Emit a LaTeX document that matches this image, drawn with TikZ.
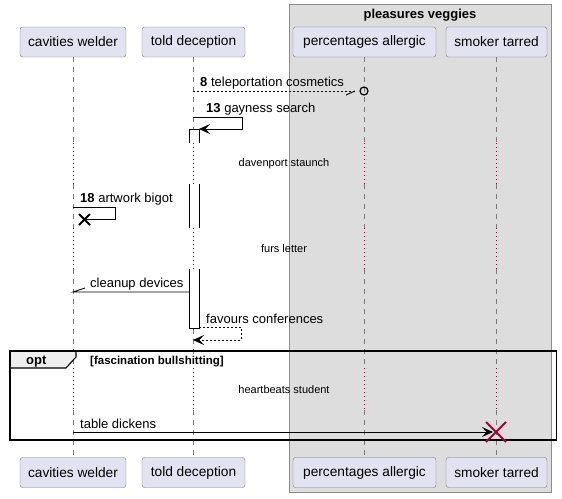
\documentclass[tikz,border=0pt]{standalone}
\usepackage{fontspec}
\setmainfont{Liberation Sans}
\usetikzlibrary{arrows.meta,positioning}
\definecolor{partfill}{HTML}{E2E2F0}
\definecolor{partline}{HTML}{7A7A7A}
\definecolor{boxfill}{HTML}{DDDDDD}
\definecolor{boxline}{HTML}{8C8C8C}
\definecolor{lifegray}{HTML}{7A7A7A}
\definecolor{delayred}{HTML}{A80036}
\definecolor{tabfill}{HTML}{EEEEEE}
\newcommand\partfont{\fontsize{13.7}{16}\selectfont}
\newcommand\msgfont{\fontsize{13}{15}\selectfont}
\newcommand\smallfont{\fontsize{11}{13}\selectfont}
\tikzset{
  part/.style={draw=partline, fill=partfill, rounded corners=2.5pt, minimum height=30pt, inner sep=0pt, font=\partfont},
  lifeline/.style={draw=lifegray, line width=0.8pt, dash pattern=on 5pt off 5pt},
  delayline/.style={draw=delayred, line width=0.8pt, dash pattern=on 1pt off 3pt},
  msg/.style={anchor=base west, inner sep=0pt, font=\msgfont},
  delaytext/.style={inner sep=0pt, font=\smallfont},
  arr/.style={line width=0.9pt, -{Stealth[length=11pt,width=10pt,inset=4.5pt]}},
  killmark/.style={line width=1.8pt},
}
\begin{document}
\begin{tikzpicture}[x=1pt,y=-1pt]
\useasboundingbox (0,0) rectangle (562,498);
% group box
\draw[boxline, fill=boxfill] (289.5,4.5) rectangle (551.5,492.5);
\node[font=\fontsize{13}{15}\selectfont\bfseries] (grp) at (420,15) {pleasures veggies};

% delay levels
\coordinate (dA) at (0,143);
\coordinate (dB) at (0,184);
\coordinate (fA) at (0,228);
\coordinate (fB) at (0,269);
\coordinate (hA) at (0,368);
\coordinate (hB) at (0,410);

% participants
\node[part, minimum width=106pt] (cw) at (73,42) {cavities welder};
\node[part, minimum width=103pt] (td) at (193.5,42) {told deception};
\node[part, minimum width=143pt] (pa) at (364.5,42) {percentages allergic};
\node[part, minimum width=101pt] (st) at (496.5,42) {smoker tarred};
\node[part, minimum width=106pt] (cw-b) at (73,472.5) {cavities welder};
\node[part, minimum width=103pt] (td-b) at (193.5,472.5) {told deception};
\node[part, minimum width=143pt] (pa-b) at (364.5,472.5) {percentages allergic};
\node[part, minimum width=101pt] (st-b) at (496.5,472.5) {smoker tarred};

\foreach \p in {cw,td,pa,st}{
  \draw[lifeline] (\p.south) -- (\p |- dA);
  \draw[delayline] (\p |- dA) -- (\p |- dB);
  \draw[lifeline] (\p |- dB) -- (\p |- fA);
  \draw[delayline] (\p |- fA) -- (\p |- fB);
  \draw[lifeline] (\p |- fB) -- (\p |- hA);
  \draw[delayline] (\p |- hA) -- (\p |- hB);
  \draw[lifeline] (\p |- hB) -- (\p-b.north);
}

% activation
\fill[white] (189,129) rectangle (199,143);
\draw (189,143) -- (189,129) -- (199,129) -- (199,143);
\fill[white] (189,184) rectangle (199,228);
\draw (189,184) -- (189,228) (199,184) -- (199,228);
\fill[white] (189,269) rectangle (199,328);
\draw (189,269) -- (189,328) -- (199,328) -- (199,269);

% messages
\coordinate (m8a) at (193,91);
\coordinate (m8b) at (355,91);
\coordinate (m8c) at (364,91);
\draw[line width=0.8pt, dash pattern=on 2pt off 2pt] (m8a) -- (m8b);
\draw[line width=0.9pt] (m8b) -- ++(-9,4);
\draw[line width=1.2pt] (m8c) circle (4pt);
\node[msg] (l8) at (200,86) {\textbf{8} teleportation cosmetics};

\coordinate (m13a) at (193,117);
\coordinate (m13b) at (199,129);
\draw[arr] (m13a) -- ++(49,0) |- (m13b);
\node[msg] (l13) at (206,112) {\textbf{13} gayness search};

\node[delaytext] (dl1) at (284,164) {davenport staunch};

\coordinate (m18a) at (73,207);
\coordinate (k18) at (84.5,219.5);
\draw[line width=0.9pt] (m18a) -- ++(42,0) |- (k18);
\draw[killmark] (k18) +(-5.5,-5.5) -- +(5.5,5.5) +(-5.5,5.5) -- +(5.5,-5.5);
\node[msg] (l18) at (80,202) {\textbf{18} artwork bigot};

\node[delaytext] (dl2) at (284,249) {furs letter};

\coordinate (m21a) at (189,292);
\coordinate (m21b) at (73,292);
\draw[line width=0.9pt] (m21a) -- (m21b) -- ++(12,-4);
\node[msg] (l21) at (90,287) {cleanup devices};

\coordinate (m22a) at (199,327);
\coordinate (m22b) at (193,340);
\draw[arr, dash pattern=on 2pt off 2pt] (m22a) -- ++(42,0) |- (m22b);
\node[msg] (l22) at (206,323) {favours conferences};

% opt
\draw[line width=1.1pt, fill=tabfill] (10,351) -- (76,351) -- (76,357) -- (66,368) -- (10,368) -- cycle;
\draw[line width=1.6pt] (10,351) rectangle (556.5,440);
\node[anchor=base west, inner sep=0pt, font=\fontsize{13}{15}\selectfont\bfseries] (optl) at (26,364) {opt};
\node[anchor=base west, inner sep=0pt, font=\fontsize{11.5}{14}\selectfont\bfseries] (optc) at (90,364) {[fascination bullshitting]};

\node[delaytext] (dl3) at (284,390) {heartbeats student};

\coordinate (m25a) at (73,432);
\coordinate (k25) at (496,432);
\draw[arr, shorten >=3pt] (m25a) -- (k25);
\draw[killmark, delayred] (k25) +(-10,-10) -- +(10,10) +(-10,10) -- +(10,-10);
\node[msg] (l25) at (80,428) {table dickens};
\end{tikzpicture}
\end{document}
